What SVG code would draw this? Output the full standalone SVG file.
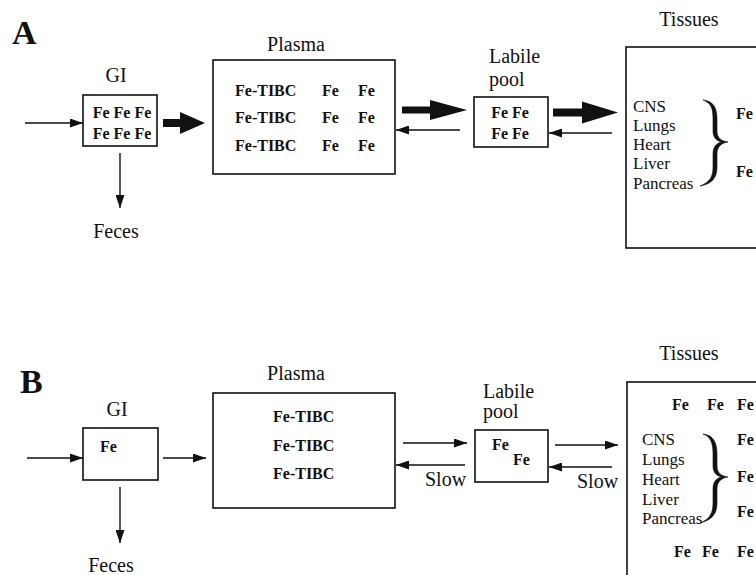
<svg xmlns="http://www.w3.org/2000/svg" width="756" height="575" viewBox="0 0 756 575" font-family="'Liberation Serif', 'DejaVu Serif', serif">
<defs>
<style>
text{font-family:'Liberation Serif','DejaVu Serif',serif;fill:#111}
.lbl{font-size:20px}
.org{font-size:17px}
.fe{font-size:16px;font-weight:bold}
.big{font-size:34px;font-weight:bold}
.box{fill:#fff;stroke:#111;stroke-width:1.6}
.thin{stroke:#111;stroke-width:1.4;fill:none;marker-end:url(#ah)}
.thick{fill:#111;stroke:none}
.brace{fill:#111;stroke:#111;stroke-width:0.6;stroke-linejoin:round}
</style>
<marker id="ah" markerUnits="userSpaceOnUse" markerWidth="13" markerHeight="9" refX="13" refY="4.5" orient="auto">
<path d="M0,0 L13,4.5 L0,9 z" fill="#111"/>
</marker>
</defs>
<rect width="756" height="575" fill="#fff"/>

<!-- Panel A -->
<text class="big" x="12" y="44">A</text>
<g id="A-GI">
<text class="lbl" x="116" y="82" text-anchor="middle">GI</text>
<rect class="box" x="83" y="95" width="74" height="51"/>
<text class="fe" x="122" y="118" text-anchor="middle" font-size="16.5">Fe Fe Fe</text>
<text class="fe" x="122" y="139" text-anchor="middle" font-size="16.5">Fe Fe Fe</text>
</g>
<g id="A-Feces"><text class="lbl" x="116" y="238" text-anchor="middle">Feces</text></g>
<g id="A-Plasma">
<text class="lbl" x="296" y="51" text-anchor="middle">Plasma</text>
<rect class="box" x="213" y="60" width="182" height="114"/>
<text class="fe" x="235" y="96">Fe-TIBC</text><text class="fe" x="322" y="96">Fe</text><text class="fe" x="358" y="96">Fe</text>
<text class="fe" x="235" y="123">Fe-TIBC</text><text class="fe" x="322" y="123">Fe</text><text class="fe" x="358" y="123">Fe</text>
<text class="fe" x="235" y="151">Fe-TIBC</text><text class="fe" x="322" y="151">Fe</text><text class="fe" x="358" y="151">Fe</text>
</g>
<g id="A-Labile">
<text class="lbl" x="489" y="63">Labile</text>
<text class="lbl" x="489" y="86">pool</text>
<rect class="box" x="474" y="97" width="74" height="50"/>
<text class="fe" x="510" y="118" text-anchor="middle">Fe Fe</text>
<text class="fe" x="510" y="139" text-anchor="middle">Fe Fe</text>
</g>
<g id="A-Tissues">
<text class="lbl" x="689" y="26" text-anchor="middle">Tissues</text>
<rect class="box" x="626" y="47" width="140" height="201"/>
<text class="org" x="633" y="112">CNS</text>
<text class="org" x="633" y="131">Lungs</text>
<text class="org" x="633" y="150">Heart</text>
<text class="org" x="633" y="169">Liver</text>
<text class="org" x="633" y="189">Pancreas</text>
<path class="brace" d="M703,100 C713,101 717,107 717,119 L717,131 C717,138 721,141 728,142 C721,143 717,147 717,154 L717,167 C717,178 712,184 700,186 C710,182 713,177 713,167 L713,154 C713,147 716,143 722,142 C716,141 713,137 713,131 L713,119 C713,108 711,103 703,100 z"/>
<text class="fe" x="736" y="119">Fe</text>
<text class="fe" x="736" y="177">Fe</text>
</g>
<g id="A-connectors">
<line class="thin" x1="25" y1="123" x2="83" y2="123"/>
<line class="thin" x1="120" y1="153" x2="120" y2="208"/>
<polygon class="thick" points="163,119 180,119 180,112 205,123 180,134 180,127 163,127"/>
<polygon class="thick" points="402,106.5 430,106.5 430,100 467,110 430,120 430,113.5 402,113.5"/>
<line class="thin" x1="460" y1="130" x2="396" y2="130"/>
<polygon class="thick" points="553,108.5 582,108.5 582,101.5 618,112.5 582,123.5 582,116.5 553,116.5"/>
<line class="thin" x1="612" y1="133" x2="549" y2="133"/>
</g>

<!-- Panel B -->
<text class="big" x="20" y="393">B</text>
<g id="B-GI">
<text class="lbl" x="117" y="416" text-anchor="middle">GI</text>
<rect class="box" x="83" y="428" width="75" height="52"/>
<text class="fe" x="100" y="452">Fe</text>
</g>
<g id="B-Feces"><text class="lbl" x="111" y="572" text-anchor="middle" font-size="16">Feces</text></g>
<g id="B-Plasma">
<text class="lbl" x="296" y="380" text-anchor="middle">Plasma</text>
<rect class="box" x="213" y="393" width="182" height="115"/>
<text class="fe" x="273" y="422">Fe-TIBC</text>
<text class="fe" x="273" y="451">Fe-TIBC</text>
<text class="fe" x="273" y="479">Fe-TIBC</text>
</g>
<g id="B-Labile">
<text class="lbl" x="483" y="398">Labile</text>
<text class="lbl" x="483" y="418">pool</text>
<rect class="box" x="475" y="430" width="73" height="52"/>
<text class="fe" x="492" y="450">Fe</text>
<text class="fe" x="513" y="465">Fe</text>
</g>
<g id="B-Tissues">
<text class="lbl" x="689" y="360" text-anchor="middle">Tissues</text>
<rect class="box" x="627" y="382" width="140" height="210"/>
<text class="fe" x="672" y="410">Fe</text><text class="fe" x="707" y="410">Fe</text><text class="fe" x="737" y="410">Fe</text>
<text class="org" x="642" y="445">CNS</text>
<text class="org" x="642" y="465">Lungs</text>
<text class="org" x="642" y="485">Heart</text>
<text class="org" x="642" y="505">Liver</text>
<text class="org" x="642" y="524">Pancreas</text>
<path class="brace" d="M703,434 C713,435 717,442 717,454 L717,466 C717,473 721,476 728,477 C721,478 717,482 717,489 L717,503 C717,514 712,520 700,523 C710,519 713,513 713,503 L713,489 C713,482 716,478 722,477 C716,476 713,472 713,466 L713,454 C713,443 711,437 703,434 z"/>
<text class="fe" x="737" y="445">Fe</text>
<text class="fe" x="737" y="482">Fe</text>
<text class="fe" x="737" y="517">Fe</text>
<text class="fe" x="674" y="557">Fe</text><text class="fe" x="702" y="557">Fe</text><text class="fe" x="737" y="557">Fe</text>
</g>
<g id="B-connectors">
<line class="thin" x1="27" y1="458" x2="83" y2="458"/>
<line class="thin" x1="163" y1="458" x2="206" y2="458"/>
<line class="thin" x1="120" y1="487" x2="120" y2="543"/>
<line class="thin" x1="403" y1="443" x2="467" y2="443"/>
<line class="thin" x1="465" y1="465" x2="396" y2="465"/>
<text class="lbl" x="425" y="486" font-size="18">Slow</text>
<line class="thin" x1="555" y1="445" x2="618" y2="445"/>
<line class="thin" x1="612" y1="467" x2="549" y2="467"/>
<text class="lbl" x="577" y="488" font-size="18">Slow</text>
</g>
</svg>
